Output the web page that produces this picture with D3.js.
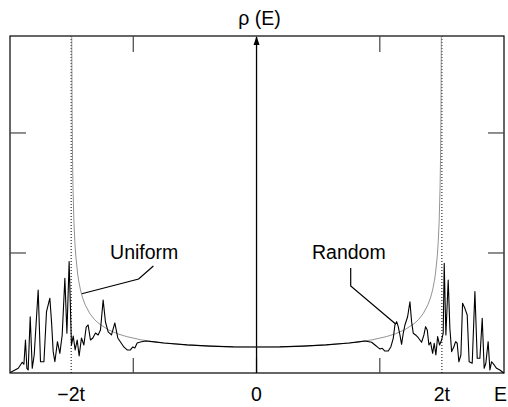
<!DOCTYPE html>
<html><head><meta charset="utf-8">
<script src="https://cdn.jsdelivr.net/npm/d3@7"></script>
<style>html,body{margin:0;padding:0;background:#fff;} svg{display:block;font-family:"Liberation Sans",Arial,sans-serif;}</style>
</head><body>
<svg id="c" width="508" height="407"></svg>
<script>
// Uniform (clean) density of states (E in units of t)
const uniformE = [-1.994,-1.99,-1.985,-1.98,-1.97,-1.96,-1.95,-1.93,-1.92,-1.9,-1.88,-1.85,-1.8,-1.75,-1.7,-1.6,-1.5,-1.4,-1.25,-1.1,-1.0,-0.75,-0.5,-0.25,0,0.25,0.5,0.75,1.0,1.1,1.25,1.4,1.5,1.6,1.7,1.75,1.8,1.85,1.88,1.9,1.92,1.93,1.95,1.96,1.97,1.98,1.985,1.99,1.994];
const uniformRho = [2.81,2.167,1.771,1.535,1.254,1.088,0.974,0.825,0.773,0.693,0.634,0.570,0.497,0.447,0.411,0.361,0.327,0.303,0.277,0.259,0.250,0.234,0.224,0.218,0.217,0.218,0.224,0.234,0.250,0.259,0.277,0.303,0.327,0.361,0.411,0.447,0.497,0.570,0.634,0.693,0.773,0.825,0.974,1.088,1.254,1.535,1.771,2.167,2.81];

// Random (disordered) density of states
const randomE = [-2.657,-2.571,-2.528,-2.510,-2.493,-2.478,-2.464,-2.442,-2.420,-2.399,-2.356,-2.331,-2.294,-2.266,-2.230,-2.212,-2.194,-2.176,-2.148,-2.122,-2.097,-2.068,-2.046,-2.022,-1.997,-1.978,-1.957,-1.935,-1.914,-1.889,-1.863,-1.838,-1.817,-1.792,-1.766,-1.738,-1.709,-1.684,-1.655,-1.630,-1.601,-1.565,-1.529,-1.497,-1.468,-1.432,-1.396,-1.361,-1.335,-1.313,-1.288,-1.253,-1.199,
 -1.1,-1.0,-0.75,-0.5,-0.25,0,0.25,0.5,0.75,1.0,1.1,1.17,
 1.242,1.278,1.313,1.332,1.356,1.385,1.421,1.450,1.475,1.493,1.512,1.529,1.547,1.565,1.583,1.601,1.630,1.655,1.673,1.691,1.716,1.745,1.763,1.781,1.806,1.824,1.842,1.860,1.878,1.900,1.917,1.935,1.954,1.975,1.997,2.014,2.025,2.043,2.068,2.086,2.105,2.129,2.148,2.165,2.183,2.205,2.223,2.248,2.273,2.294,2.327,2.356,2.381,2.410,2.435,2.456,2.474,2.499,2.518,2.536,2.564,2.590,2.625,2.668];
const randomRho = [0.004,0.039,0.089,0.073,0.275,0.039,0.025,0.469,0.039,0.150,0.692,0.094,0.094,0.511,0.623,0.428,0.178,0.094,0.261,0.164,0.317,0.789,0.331,0.928,0.233,0.308,0.192,0.275,0.142,0.292,0.233,0.383,0.400,0.275,0.292,0.333,0.317,0.358,0.608,0.425,0.342,0.317,0.417,0.292,0.258,0.217,0.192,0.192,0.217,0.208,0.250,0.258,0.267,
 0.259,0.250,0.234,0.224,0.218,0.217,0.218,0.224,0.234,0.250,0.259,0.266,
 0.256,0.233,0.211,0.200,0.206,0.183,0.183,0.219,0.289,0.400,0.428,0.386,0.317,0.239,0.331,0.400,0.469,0.594,0.428,0.331,0.317,0.294,0.275,0.256,0.317,0.386,0.358,0.233,0.256,0.164,0.248,0.150,0.303,0.233,0.275,0.331,0.914,0.317,0.775,0.373,0.178,0.219,0.261,0.248,0.094,0.150,0.581,0.539,0.483,0.094,0.081,0.678,0.123,0.123,0.456,0.039,0.081,0.261,0.025,0.094,0.067,0.039,0.025,0.0];

const xTickVals = [-2, 0, 2];
const xTickLabels = ["\u22122t", "0", "2t"];
const minorXTicks = [-1.33, 0, 1.33];
const yTicks = [1, 2];
const bandEdges = [-2, 2];

const svg = d3.select("#c");
const L = 10, R = 504, T = 36, B = 373;
const x = d3.scaleLinear().domain([-2.66, 2.67]).range([L, R]);
const y = d3.scaleLinear().domain([0, 2.808]).range([B, T]);

// frame
svg.append("rect").attr("x", L).attr("y", T).attr("width", R - L).attr("height", B - T)
  .attr("fill", "none").attr("stroke", "#000").attr("stroke-width", 1.2);

// ticks (inward)
const tk = svg.append("g").attr("stroke", "#444").attr("stroke-width", 1.2);
minorXTicks.forEach(v => {
  tk.append("line").attr("x1", x(v)).attr("x2", x(v)).attr("y1", B).attr("y2", B - 15);
  if (v !== 0) tk.append("line").attr("x1", x(v)).attr("x2", x(v)).attr("y1", T).attr("y2", T + 16);
});
yTicks.forEach(v => {
  tk.append("line").attr("x1", L).attr("x2", L + 16).attr("y1", y(v)).attr("y2", y(v));
  tk.append("line").attr("x1", R - 16).attr("x2", R).attr("y1", y(v)).attr("y2", y(v));
});

// band edge dotted lines
bandEdges.forEach(v => {
  svg.append("line").attr("x1", x(v)).attr("x2", x(v)).attr("y1", T).attr("y2", B)
    .attr("stroke", "#000").attr("stroke-width", 1).attr("stroke-dasharray", "1,2");
});

// vertical axis with arrow
svg.append("line").attr("x1", x(0)).attr("x2", x(0)).attr("y1", B).attr("y2", T + 1)
  .attr("stroke", "#000").attr("stroke-width", 1.3);
svg.append("path").attr("d", `M${x(0)},${T} L${x(0) - 3},${T + 9} L${x(0) + 3},${T + 9} Z`).attr("fill", "#000");

// curves
const line = d3.line().x(d => x(d[0])).y(d => y(d[1]));
svg.append("path").datum(uniformE.map((e, i) => [e, uniformRho[i]]))
  .attr("d", line).attr("fill", "none").attr("stroke", "#777").attr("stroke-width", 0.8);
svg.append("path").datum(randomE.map((e, i) => [e, randomRho[i]]))
  .attr("d", line).attr("fill", "none").attr("stroke", "#000").attr("stroke-width", 1.1)
  .attr("stroke-linejoin", "round");

// annotations
const uniLeader = [[-1.885, 0.66], [-1.272, 0.783], [-1.113, 0.892]];
const rndLeader = [[1.016, 0.875], [1.016, 0.725], [1.501, 0.408]];
[uniLeader, rndLeader].forEach(p => svg.append("path").attr("d", line(p))
  .attr("fill", "none").attr("stroke", "#000").attr("stroke-width", 1.2));
svg.append("text").attr("x", x(-1.58)).attr("y", y(0.95)).attr("font-size", 19.5).text("Uniform");
svg.append("text").attr("x", x(0.598)).attr("y", y(0.95)).attr("font-size", 19.5).text("Random");

// axis labels
xTickVals.forEach((v, i) => {
  svg.append("text").attr("x", x(v)).attr("y", 401).attr("text-anchor", "middle")
    .attr("font-size", 19.5).text(xTickLabels[i]);
});
svg.append("text").attr("x", 507).attr("y", 401).attr("text-anchor", "end").attr("font-size", 19.5).text("E");
svg.append("text").attr("x", x(0) + 3).attr("y", 25).attr("text-anchor", "middle")
  .attr("font-size", 19.5).text("\u03C1 (E)");
</script>
</body></html>
